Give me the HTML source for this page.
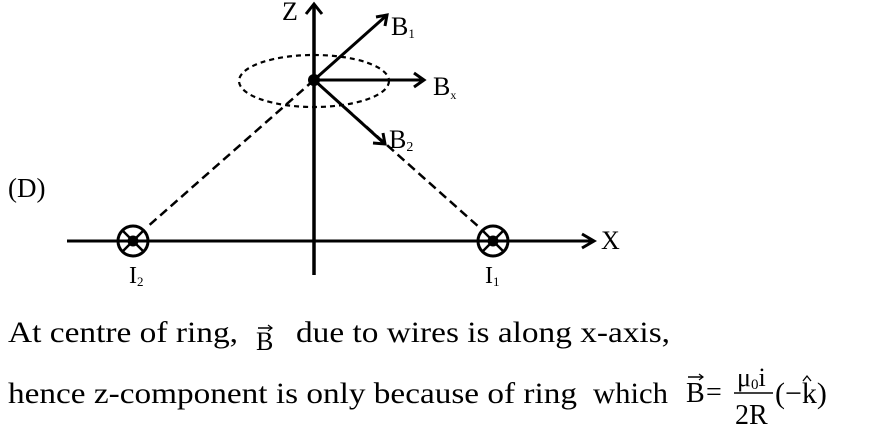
<!DOCTYPE html>
<html><head><style>
html,body{margin:0;padding:0;background:#fff;width:871px;height:435px;overflow:hidden}
svg{display:block;font-family:"Liberation Serif",serif}
</style></head><body>
<svg width="871" height="435" viewBox="0 0 871 435" xmlns="http://www.w3.org/2000/svg">
<g stroke="#000" fill="none" stroke-width="3.5">
 <line x1="314" y1="275" x2="314" y2="4"/>
 <polyline points="306,14 314,4 322,14" stroke-width="3"/>
 <line x1="67" y1="241" x2="594" y2="241" stroke-width="3"/>
 <polyline points="582,234 594,241 582,248" stroke-width="3"/>
 <ellipse cx="314" cy="81" rx="75" ry="26" stroke-width="2.2" stroke-dasharray="5,4"/>
 <line x1="314" y1="80" x2="387" y2="15" stroke-width="3"/>
 <polyline points="376,17 387,15 385,26" stroke-width="3"/>
 <line x1="314" y1="80" x2="424" y2="80" stroke-width="3"/>
 <polyline points="414,73 424,80 414,87" stroke-width="3"/>
 <line x1="314" y1="80" x2="385" y2="144" stroke-width="3"/>
 <polyline points="373,143 385,144 383,133" stroke-width="3"/>
 <line x1="314" y1="80" x2="146" y2="228" stroke-width="2.5" stroke-dasharray="9,5"/>
 <line x1="314" y1="80" x2="480" y2="228" stroke-width="2.5" stroke-dasharray="9,5"/>
 <circle cx="133" cy="241" r="15" stroke-width="3"/>
 <line x1="123" y1="231" x2="143" y2="251" stroke-width="2.5"/>
 <line x1="143" y1="231" x2="123" y2="251" stroke-width="2.5"/>
 <circle cx="493" cy="241" r="15" stroke-width="3"/>
 <line x1="483" y1="231" x2="503" y2="251" stroke-width="2.5"/>
 <line x1="503" y1="231" x2="483" y2="251" stroke-width="2.5"/>
</g>
<circle cx="314" cy="80" r="6"/>
<circle cx="133" cy="241" r="5.5"/>
<circle cx="493" cy="241" r="5.5"/>
<g fill="#000">
 <text x="282" y="20" font-size="26">Z</text>
 <text x="391" y="35" font-size="26">B<tspan font-size="13" dy="3">1</tspan></text>
 <text x="433" y="95" font-size="26">B<tspan font-size="12" dy="4">x</tspan></text>
 <text x="389" y="148" font-size="26">B<tspan font-size="14" dy="3">2</tspan></text>
 <text x="8" y="197" font-size="27">(D)</text>
 <text x="601" y="249" font-size="26">X</text>
 <text x="129" y="283" font-size="24">I<tspan font-size="13" dy="3">2</tspan></text>
 <text x="485" y="283" font-size="24">I<tspan font-size="13" dy="3">1</tspan></text>
 <text x="8" y="342" font-size="30" textLength="230" lengthAdjust="spacingAndGlyphs">At centre of ring,</text>
 <text x="256" y="350" font-size="26">B</text>
 <line x1="258" y1="328" x2="272" y2="328" stroke="#000" stroke-width="1.5"/>
 <polyline points="268,325 272,328 268,331" stroke="#000" stroke-width="1.2" fill="none"/>
 <text x="296" y="342" font-size="30" textLength="374" lengthAdjust="spacingAndGlyphs">due to wires is along x-axis,</text>
 <text x="8" y="403" font-size="30" textLength="569" lengthAdjust="spacingAndGlyphs">hence z-component is only because of ring</text>
 <text x="593" y="403" font-size="30" textLength="75" lengthAdjust="spacingAndGlyphs">which</text>
 <text x="686" y="402" font-size="28">B</text>
 <line x1="688" y1="377" x2="703" y2="377" stroke="#000" stroke-width="1.5"/>
 <polyline points="699,374 703,377 699,380" stroke="#000" stroke-width="1.2" fill="none"/>
 <text x="706" y="401" font-size="28">=</text>
 <text x="737" y="386" font-size="26">μ<tspan font-size="15" dy="3">0</tspan><tspan dy="-3">i</tspan></text>
 <line x1="734" y1="393" x2="773" y2="393" stroke="#000" stroke-width="1.5"/>
 <text x="735" y="424" font-size="28">2R</text>
 <text x="775" y="403" font-size="30">(−k)</text>
 <polyline points="803,381 807,376 811,381" stroke="#000" stroke-width="1.3" fill="none"/>
</g>
</svg>
</body></html>
